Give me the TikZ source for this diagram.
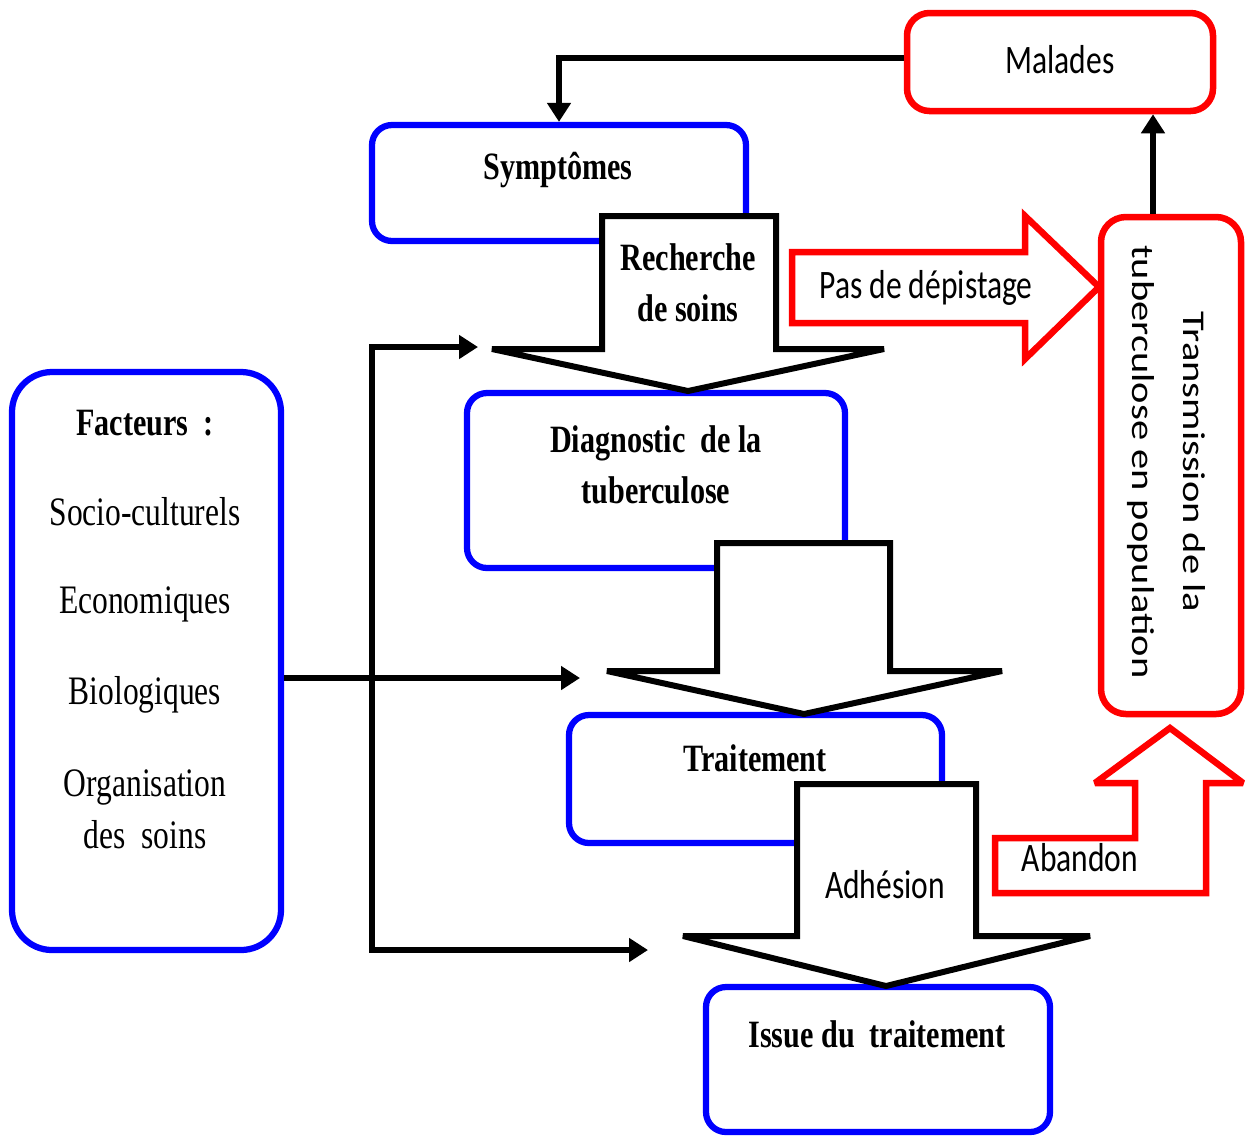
\documentclass[tikz,border=0pt]{standalone}
\usepackage{fontspec}
\usepackage{graphicx}
\setmainfont{Liberation Serif}
\newfontfamily\calfont{Carlito}
\usetikzlibrary{arrows.meta,calc,fit}
\newcommand{\sqz}[1]{\scalebox{0.78}[1]{#1}}
\newcommand{\twol}[2]{\begin{tabular}{@{}c@{}}#1\\#2\end{tabular}}
\definecolor{pblue}{RGB}{0,0,255}
\definecolor{pred}{RGB}{255,0,0}
\begin{document}
\begin{tikzpicture}[x=0.2mm,y=-0.2mm,
  bluebox/.style={draw=pblue, line width=1.25mm, rounded corners=4mm, fill=white, inner sep=0pt},
  redbox/.style={draw=pred, line width=1.3mm, rounded corners=4.5mm, fill=white, inner sep=0pt},
  blockarrow/.style={draw=black, line width=1.2mm, fill=white, line join=miter, miter limit=3},
  redarrow/.style={draw=pred, line width=1.3mm, fill=white, line join=miter, miter limit=3},
  conn/.style={draw=black, line width=1.35mm, -{Triangle[length=3.8mm,width=4.6mm]}},
  serifb/.style={font=\bfseries\fontsize{22}{29}\selectfont, inner sep=0pt},
  serifr/.style={font=\fontsize{23}{30}\selectfont, inner sep=0pt},
  sanslbl/.style={font=\calfont\fontsize{23}{29}\selectfont, inner sep=0pt}]
\fill[white] (0,0) rectangle (1250,1138);
\useasboundingbox (0,0) rectangle (1250,1138);

% boxes
\node[redbox, fit={(907,13) (1213,111)}] (malades) {};
\node[bluebox, fit={(372,125) (746,241)}] (symp) {};
\node[bluebox, fit={(467,393) (845,568)}] (diag) {};
\node[bluebox, fit={(569,715) (942,843)}] (trait) {};
\node[bluebox, fit={(706,987) (1050,1132)}] (issue) {};
\node[bluebox, rounded corners=8mm, fit={(12,372) (281,950)}] (fact) {};
\node[redbox, rounded corners=5mm, fit={(1101,217) (1241,714)}] (trans) {};

% block arrows
\draw[blockarrow] (602,216) -- (776,216) -- (776,349) -- (884,349) -- (688,391) -- (492,349) -- (602,349) -- cycle;
\draw[blockarrow] (717,543) -- (890,543) -- (890,671) -- (1002,671) -- (804,714) -- (607,671) -- (717,671) -- cycle;
\draw[blockarrow] (797,784) -- (976,784) -- (976,936) -- (1090,936) -- (886,986) -- (683,936) -- (797,936) -- cycle;

% red block arrows
\draw[redarrow] (792,252) -- (1025,252) -- (1025,216) -- (1099,287) -- (1025,359) -- (1025,323) -- (792,323) -- cycle;
\draw[redarrow] (995,838) -- (1135,838) -- (1135,783) -- (1095,783) -- (1170,728) -- (1243,783) -- (1206,783) -- (1206,893) -- (995,893) -- cycle;

% connectors
\coordinate (yM) at (0,58);
\coordinate (xT) at (1153,0);
\coordinate (yF) at (0,678);
\coordinate (e1) at (478,347);
\coordinate (e2) at (580,678);
\coordinate (e3) at (648,950);
\coordinate (vt) at (372,347);
\coordinate (vb) at (372,950);
\draw[conn] (malades.west |- yM) -| (symp.north);
\draw[conn] (trans.north -| xT) -- (malades.south -| xT);
\draw[conn] (fact.east |- yF) -- (e2);
\draw[conn, {Triangle[length=3.8mm,width=4.6mm]}-{Triangle[length=3.8mm,width=4.6mm]}] (e1) -- (vt) -- (vb) -- (e3);

% labels
\node[sanslbl] (malades-t) at (1060,60) {\sqz{Malades}};
\node[serifb] (symp-t) at (558,170) {\sqz{Symptômes}};
\node[serifb] (rech-t) at (688,286) {\sqz{\twol{Recherche}{de soins}}};
\node[serifb] (diag-t) at (656,468) {\sqz{\twol{Diagnostic~ de la}{tuberculose}}};
\node[serifb] (trait-t) at (755,758) {\sqz{Traitement}};
\node[sanslbl] (adh-t) at (885,885) {\sqz{Adhésion}};
\node[serifb] (issue-t) at (877,1034) {\sqz{Issue du~ traitement}};
\node[sanslbl] (pas-t) at (926,288) {\sqz{Pas de dépistage}};
\node[sanslbl] (aban-t) at (1080,858) {\sqz{Abandon}};
\node[font=\calfont\fontsize{18}{28.5}\selectfont, inner sep=0pt, rotate=-90] (trans-t) at (1168,462)
  {\scalebox{1.28}[1]{\twol{Transmission de la}{tuberculose en population}}};
\node[serifb] (fact-t1) at (145,423) {\sqz{Facteurs~ :}};
\node[serifr] (fact-t2) at (145,512) {\sqz{Socio-culturels}};
\node[serifr] (fact-t3) at (145,604) {\sqz{Economiques}};
\node[serifr] (fact-t4) at (145,695) {\sqz{Biologiques}};
\node[serifr] (fact-t5) at (145,812) {\sqz{\twol{Organisation}{des~ soins}}};
\end{tikzpicture}
\end{document}
